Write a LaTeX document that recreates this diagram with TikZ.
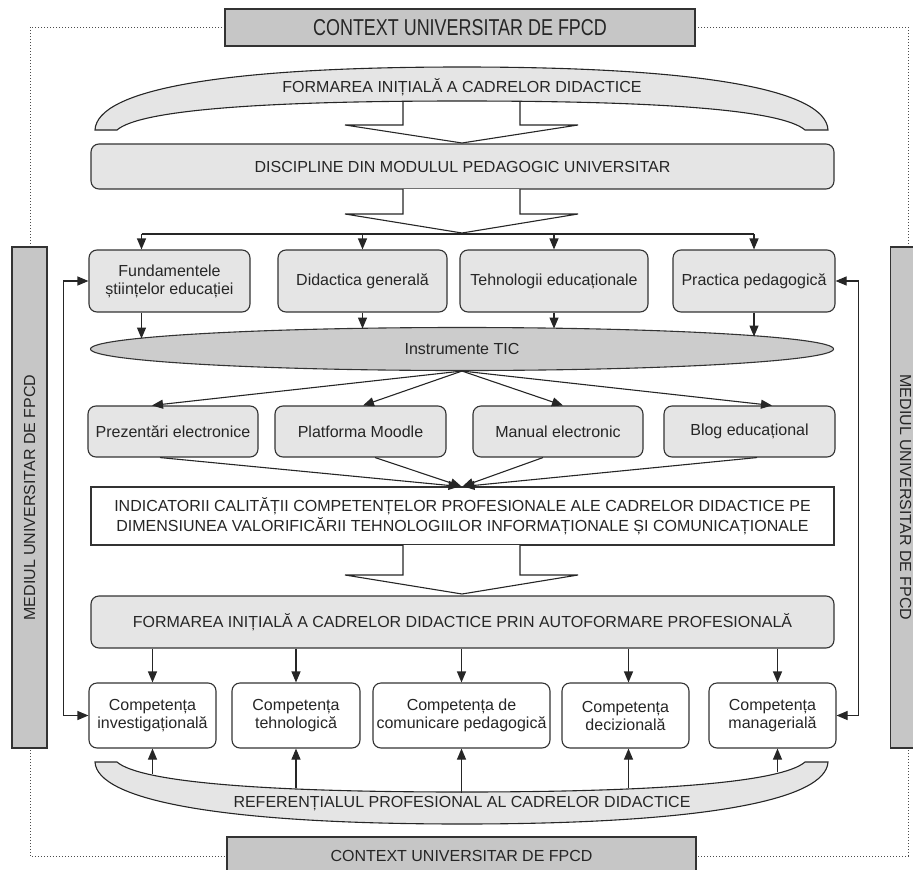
\documentclass[tikz,border=0pt]{standalone}
\usepackage{fontspec}
\setmainfont{Liberation Sans}
\usetikzlibrary{arrows.meta,shapes.geometric,calc}
\begin{document}
\begin{tikzpicture}[x=1pt,y=-1pt,
  every node/.style={font=\fontsize{16}{18}\selectfont, align=center, inner sep=0pt, text=black!85},
  lbox/.style={draw=black!80, line width=1.1pt, rounded corners=8pt, fill=black!10},
  wbox/.style={draw=black!80, line width=1.1pt, rounded corners=8pt, fill=white},
  sbox/.style={draw=black!80, line width=1.1pt, fill=white},
  banner/.style={draw=black!80, line width=1.1pt, fill=gray!45},
  ellbox/.style={draw=black!80, line width=1.1pt, ellipse, fill=gray!40},
  arr/.style={draw=black!85, line width=1.1pt, -{Triangle[length=11pt,width=9pt]}},
  arrb/.style={draw=black!85, line width=1.1pt, {Triangle[length=11pt,width=9pt]}-{Triangle[length=11pt,width=9pt]}},
  plain/.style={draw=black!85, line width=1.1pt},
  harrow/.style={draw=black!85, line width=1.1pt, fill=white},
  arcshape/.style={draw=black!85, line width=1.1pt, fill=black!10},
  dotframe/.style={draw=black!70, line width=0.9pt, dash pattern=on 0.9pt off 2.1pt}
]
\useasboundingbox (0,0) rectangle (913,870);

% dotted frame
\draw[dotframe] (30,27) rectangle (908,856);

% banners
\node[banner, minimum width=470pt, minimum height=37pt] (ctop) at (460,27.5)
  {\scalebox{0.78}[1]{\fontsize{23}{23}\selectfont CONTEXT UNIVERSITAR DE FPCD}};
\node[banner, minimum width=469pt, minimum height=37pt] (cbot) at (461.5,855.5)
  {CONTEXT UNIVERSITAR DE FPCD};
\node[banner, rotate=90, minimum width=501pt, minimum height=35pt] (lbar) at (29.5,497.5)
  {MEDIUL UNIVERSITAR DE FPCD};
\node[banner, rotate=-90, minimum width=501pt, minimum height=35pt] (rbar) at (908,497.5) {};
\node[rotate=-90] (rbartext) at (905.5,497.5) {MEDIUL UNIVERSITAR DE FPCD};

% hollow arrow 1 (under the top arc)
\draw[harrow] (403,95) -- (403,125) -- (345,125) -- (462,143) -- (578,125) -- (520,125) -- (520,95);

% top arc
\draw[arcshape] (95,130) .. controls (97,90) and (220,67) .. (462,67)
  .. controls (704,67) and (826,90) .. (828,130) -- (805,130)
  .. controls (782,110) and (662,101) .. (462,101)
  .. controls (262,101) and (140,110) .. (117,130) -- cycle;
\node (farc) at (462,87) {FORMAREA INIȚIALĂ A CADRELOR DIDACTICE};

% wide boxes
\node[lbox, minimum width=743pt, minimum height=45pt] (disc) at (462.5,166.5)
  {DISCIPLINE DIN MODULUL PEDAGOGIC UNIVERSITAR};
\node[sbox, minimum width=743pt, minimum height=58pt, font=\fontsize{16}{20}\selectfont] (indic) at (462.5,516)
  {INDICATORII CALITĂȚII COMPETENȚELOR PROFESIONALE ALE CADRELOR DIDACTICE PE\\
   DIMENSIUNEA VALORIFICĂRII TEHNOLOGIILOR INFORMAȚIONALE ȘI COMUNICAȚIONALE};
\node[lbox, minimum width=743pt, minimum height=52pt] (auto) at (462.5,622)
  {FORMAREA INIȚIALĂ A CADRELOR DIDACTICE PRIN AUTOFORMARE PROFESIONALĂ};

% hollow arrows 2 and 3
\draw[harrow] (403,189) -- (403,214) -- (345,214) -- (462,233) -- (578,214) -- (520,214) -- (520,189);
\draw[harrow] (403,545) -- (403,575) -- (345,575) -- (462,594) -- (578,575) -- (520,575) -- (520,545);

% row 1
\node[lbox, minimum width=161pt, minimum height=62pt] (fund) at (169.5,281)
  {Fundamentele\\științelor educației};
\node[lbox, minimum width=169pt, minimum height=62pt] (did) at (362.5,281) {Didactica generală};
\node[lbox, minimum width=188pt, minimum height=62pt] (teh) at (554,281) {Tehnologii educaționale};
\node[lbox, minimum width=162pt, minimum height=62pt] (prac) at (754,281) {Practica pedagogică};

% ellipse
\node[ellbox, minimum width=743pt, minimum height=43pt] (tic) at (462,349) {Instrumente TIC};

% row 2
\node[lbox, minimum width=170pt, minimum height=51pt] (prez) at (173,431.5) {Prezentări electronice};
\node[lbox, minimum width=171pt, minimum height=51pt] (plat) at (360.5,431.5) {Platforma Moodle};
\node[lbox, minimum width=170pt, minimum height=51pt] (manu) at (558,431.5) {Manual electronic};
\node[lbox, minimum width=171pt, minimum height=51pt] (blog) at (749.5,431.5) {Blog educațional};

% row 3
\node[wbox, minimum width=127pt, minimum height=65pt] (inv) at (152.5,715.5) {Competența\\investigațională};
\node[wbox, minimum width=128pt, minimum height=65pt] (tehn) at (296,715.5) {Competența\\tehnologică};
\node[wbox, minimum width=177pt, minimum height=65pt] (com) at (461.5,715.5) {Competența de\\comunicare pedagogică};
\node[wbox, minimum width=127pt, minimum height=65pt] (dec) at (625.5,715.5) {Competența\\decizională};
\node[wbox, minimum width=127pt, minimum height=65pt] (mgr) at (772.5,715.5) {Competența\\managerială};

% bottom arc
\draw[arcshape] (95,762) .. controls (97,800) and (220,824) .. (462,824)
  .. controls (704,824) and (826,800) .. (828,762) -- (805,762)
  .. controls (782,782) and (662,792) .. (462,792)
  .. controls (262,792) and (140,782) .. (117,762) -- cycle;
\node (barc) at (462,804) {REFERENȚIALUL PROFESIONAL AL CADRELOR DIDACTICE};

% distribution to row 1
\coordinate (dist) at (462,234);
\coordinate (f1) at ($(fund.north)+(-28,0)$);
\draw[plain] (f1 |- dist) -- (prac.north |- dist);
\draw[arr] (f1 |- dist) -- (f1);
\draw[arr] (did.north |- dist) -- (did.north);
\draw[arr] (teh.north |- dist) -- (teh.north);
\draw[arr] (prac.north |- dist) -- (prac.north);

% row 1 to ellipse
\draw[arr] ($(fund.south)+(-28,0)$) -- ++(0,26);
\draw[arr] (did.south) -- ++(0,16);
\draw[arr] (teh.south) -- ++(0,16);
\draw[arr] (prac.south) -- ++(0,24);

% ellipse to row 2
\draw[arr] (tic.south) -- ($(prez.north)+(-21,0)$);
\draw[arr] (tic.south) -- ($(plat.north)+(2.5,0)$);
\draw[arr] (tic.south) -- ($(manu.north)+(5,0)$);
\draw[arr] (tic.south) -- ($(blog.north)+(22.5,0)$);

% row 2 to indicators
\draw[arr] ($(prez.south)+(-13,0)$) -- ($(indic.north)+(-3,0)$);
\draw[arr] ($(plat.south)+(14.5,0)$) -- ($(indic.north)+(-1,0)$);
\draw[arr] ($(manu.south)+(-15,0)$) -- ($(indic.north)+(0,0)$);
\draw[arr] ($(blog.south)+(7.5,0)$) -- ($(indic.north)+(1,0)$);

% autoformare to row 3
\draw[arr] (inv.north |- auto.south) -- (inv.north);
\draw[arr] (tehn.north |- auto.south) -- (tehn.north);
\draw[arr] (com.north |- auto.south) -- (com.north);
\draw[arr] ($(dec.north |- auto.south)+(3,0)$) -- ($(dec.north)+(3,0)$);
\draw[arr] ($(mgr.north |- auto.south)+(5,0)$) -- ($(mgr.north)+(5,0)$);

% referential to row 3
\draw[arr] ($(inv.south)+(0,25)$) -- (inv.south);
\draw[arr] ($(tehn.south)+(0,39)$) -- (tehn.south);
\draw[arr] ($(com.south)+(0,44)$) -- (com.south);
\draw[arr] ($(dec.south)+(3,39)$) -- ($(dec.south)+(3,0)$);
\draw[arr] ($(mgr.south)+(5,23)$) -- ($(mgr.south)+(5,0)$);

% feedback loops
\draw[arrb] (fund.west) -- ++(-25,0) |- (inv.west);
\draw[arrb] (prac.east) -- ++(23,0) |- (mgr.east);
\end{tikzpicture}
\end{document}
